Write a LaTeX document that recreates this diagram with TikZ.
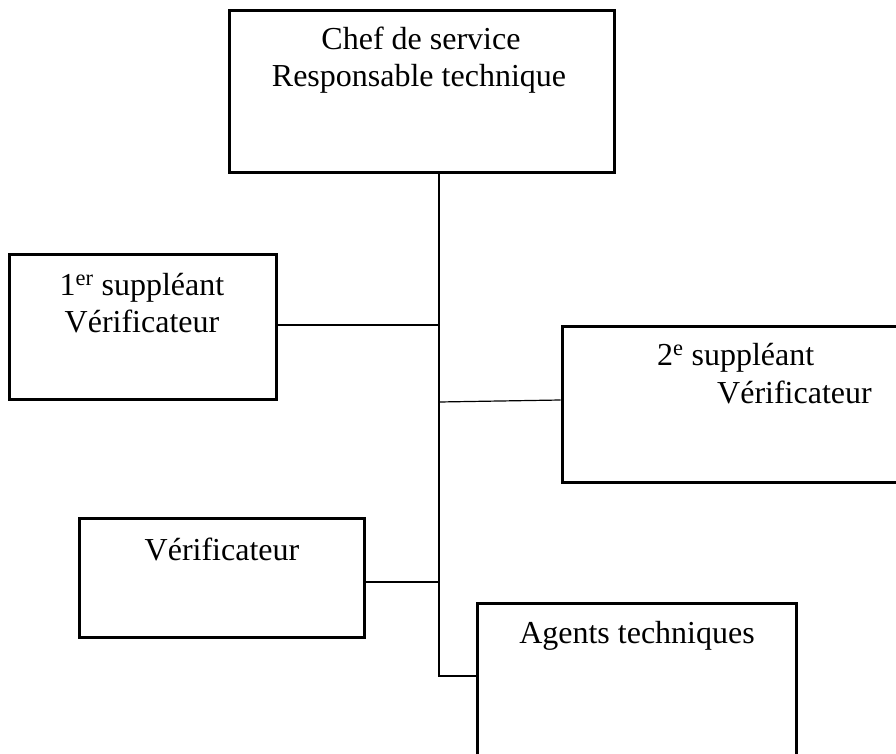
\documentclass[tikz,border=0pt]{standalone}
\usepackage{fontspec}
\setmainfont{Liberation Serif}
\begin{document}
\begin{tikzpicture}[x=1pt,y=-1pt,
  box/.style={draw,line width=3pt,rectangle,inner sep=0pt},
  lbl/.style={anchor=base,inner sep=0pt,font=\fontsize{32}{37}\selectfont},
  conn/.style={line width=1.2pt}]
\clip (0,0) rectangle (896,754);
\fill[white] (0,0) rectangle (896,754);
% boxes
\node[box,minimum width=385pt,minimum height=162pt] (chef) at (421.5,92) {};
\node[box,minimum width=267pt,minimum height=145pt] (sup1) at (142.5,326.5) {};
\node[box,minimum width=345pt,minimum height=156pt] (sup2) at (734.5,404) {};
\node[box,minimum width=285pt,minimum height=119pt] (verif) at (221.5,577.5) {};
\node[box,minimum width=319pt,minimum height=160pt] (agents) at (636.5,683) {};
% labels
\node[lbl] (t1) at (421,50) {Chef de service};
\node[lbl] (t2) at (419,87) {Responsable technique};
\node[lbl] (t3) at (142,295) {1\textsuperscript{er} suppléant};
\node[lbl] (t4) at (142,332) {Vérificateur};
\node[lbl,anchor=base west] (t5) at (657,365) {2\textsuperscript{e} suppléant};
\node[lbl,anchor=base west] (t6) at (717,403) {Vérificateur};
\node[lbl] (t7) at (222,560) {Vérificateur};
\node[lbl] (t8) at (637,643) {Agents techniques};
% connectors
\coordinate (j1) at (439,325);
\coordinate (j2) at (439,402);
\coordinate (j3) at (439,582);
\coordinate (j4) at (439,676);
\draw[conn] (chef.south -| j1) -- (j4) -- (agents.west |- j4);
\draw[conn] (sup1.east |- j1) -- (j1);
\draw[conn] (j2) -- (sup2.west |- 0,400);
\draw[conn] (verif.east |- j3) -- (j3);
\end{tikzpicture}
\end{document}
